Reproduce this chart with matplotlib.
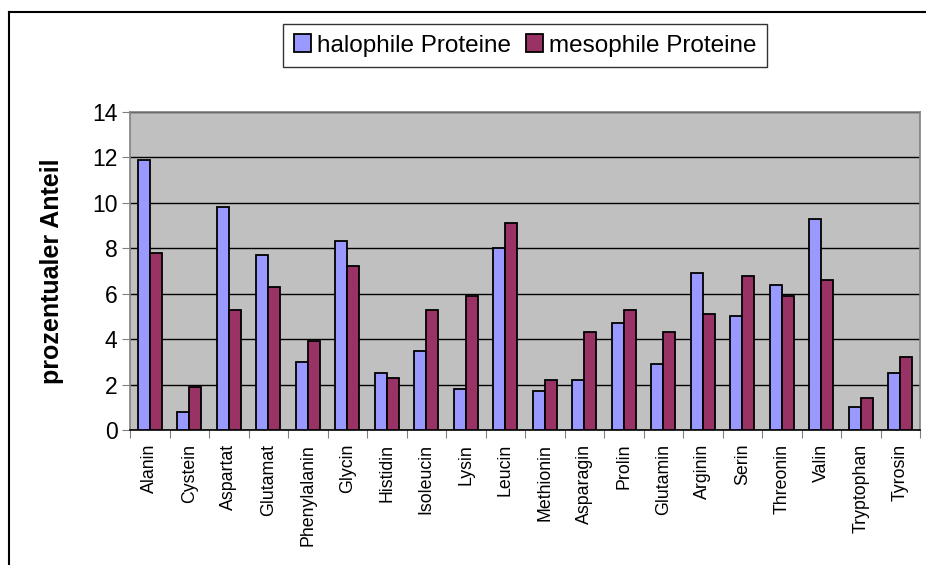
import matplotlib.pyplot as plt
import numpy as np
from matplotlib.lines import Line2D

plt.rcParams['font.family'] = ['Liberation Sans', 'DejaVu Sans']

# amino acids on the x axis
aminosaeuren = ['Alanin', 'Cystein', 'Aspartat', 'Glutamat', 'Phenylalanin',
                'Glycin', 'Histidin', 'Isoleucin', 'Lysin', 'Leucin',
                'Methionin', 'Asparagin', 'Prolin', 'Glutamin', 'Arginin',
                'Serin', 'Threonin', 'Valin', 'Tryptophan', 'Tyrosin']

# percentage share
halophil = [11.9, 0.8, 9.8, 7.7, 3.0, 8.3, 2.5, 3.5, 1.8, 8.0,
            1.7, 2.2, 4.7, 2.9, 6.9, 5.0, 6.4, 9.3, 1.0, 2.5]
mesophil = [7.8, 1.9, 5.3, 6.3, 3.9, 7.2, 2.3, 5.3, 5.9, 9.1,
            2.2, 4.3, 5.3, 4.3, 5.1, 6.8, 5.9, 6.6, 1.4, 3.2]

yticks = [0, 2, 4, 6, 8, 10, 12, 14]

fig = plt.figure(figsize=(9.26, 5.65), dpi=100)
ax = fig.add_axes([130 / 926, 1 - 430 / 565, 790 / 926, 318 / 565])
ax.set_facecolor('#C0C0C0')

x = np.arange(len(aminosaeuren))
w = 0.31
ax.bar(x - w / 2, halophil, w, color='#9999FF', edgecolor='black',
       linewidth=1.3, label='halophile Proteine', zorder=3)
ax.bar(x + w / 2, mesophil, w, color='#993366', edgecolor='black',
       linewidth=1.3, label='mesophile Proteine', zorder=3)

ax.set_xlim(-0.5, len(aminosaeuren) - 0.5)
ax.set_ylim(0, 14)
ax.set_yticks(yticks)
ax.yaxis.grid(True, color='black', linewidth=1.0, zorder=1)
ax.tick_params(axis='y', labelsize=16.5, length=6, color='#808080', pad=3)

# category boundaries get the tick marks, centres get the names
ax.set_xticks(np.arange(len(aminosaeuren) + 1) - 0.5)
ax.set_xticklabels([])
ax.set_xticks(x, minor=True)
ax.set_xticklabels(aminosaeuren, minor=True, rotation=90, fontsize=12.8)
ax.tick_params(axis='x', which='major', length=6, color='#808080')
ax.tick_params(axis='x', which='minor', length=0, pad=10)

for s in ['top', 'right']:
    ax.spines[s].set_color('#808080')
    ax.spines[s].set_linewidth(1.2)
ax.spines['left'].set_color('#808080')
ax.spines['bottom'].set_color('black')
ax.spines['left'].set_linewidth(1.2)
ax.spines['bottom'].set_linewidth(1.2)

ax.set_ylabel('prozentualer Anteil', fontsize=18, fontweight='bold', labelpad=20)

leg = fig.legend(loc='center', bbox_to_anchor=(525 / 926, 1 - 45.5 / 565), ncol=2,
                 fontsize=17.5, frameon=True, fancybox=False, handlelength=0.7,
                 handleheight=0.7, handletextpad=0.25, columnspacing=0.6,
                 borderpad=0.45, borderaxespad=0)
leg.get_frame().set_edgecolor('black')
leg.get_frame().set_linewidth(1.0)

# outer chart border (only left and top edges are visible)
fig.add_artist(Line2D([9 / 926, 9 / 926], [0, 1 - 12 / 565], color='black', linewidth=1.5))
fig.add_artist(Line2D([9 / 926, 1], [1 - 12 / 565, 1 - 12 / 565], color='black', linewidth=1.5))

fig.savefig('out.png', dpi=100)
